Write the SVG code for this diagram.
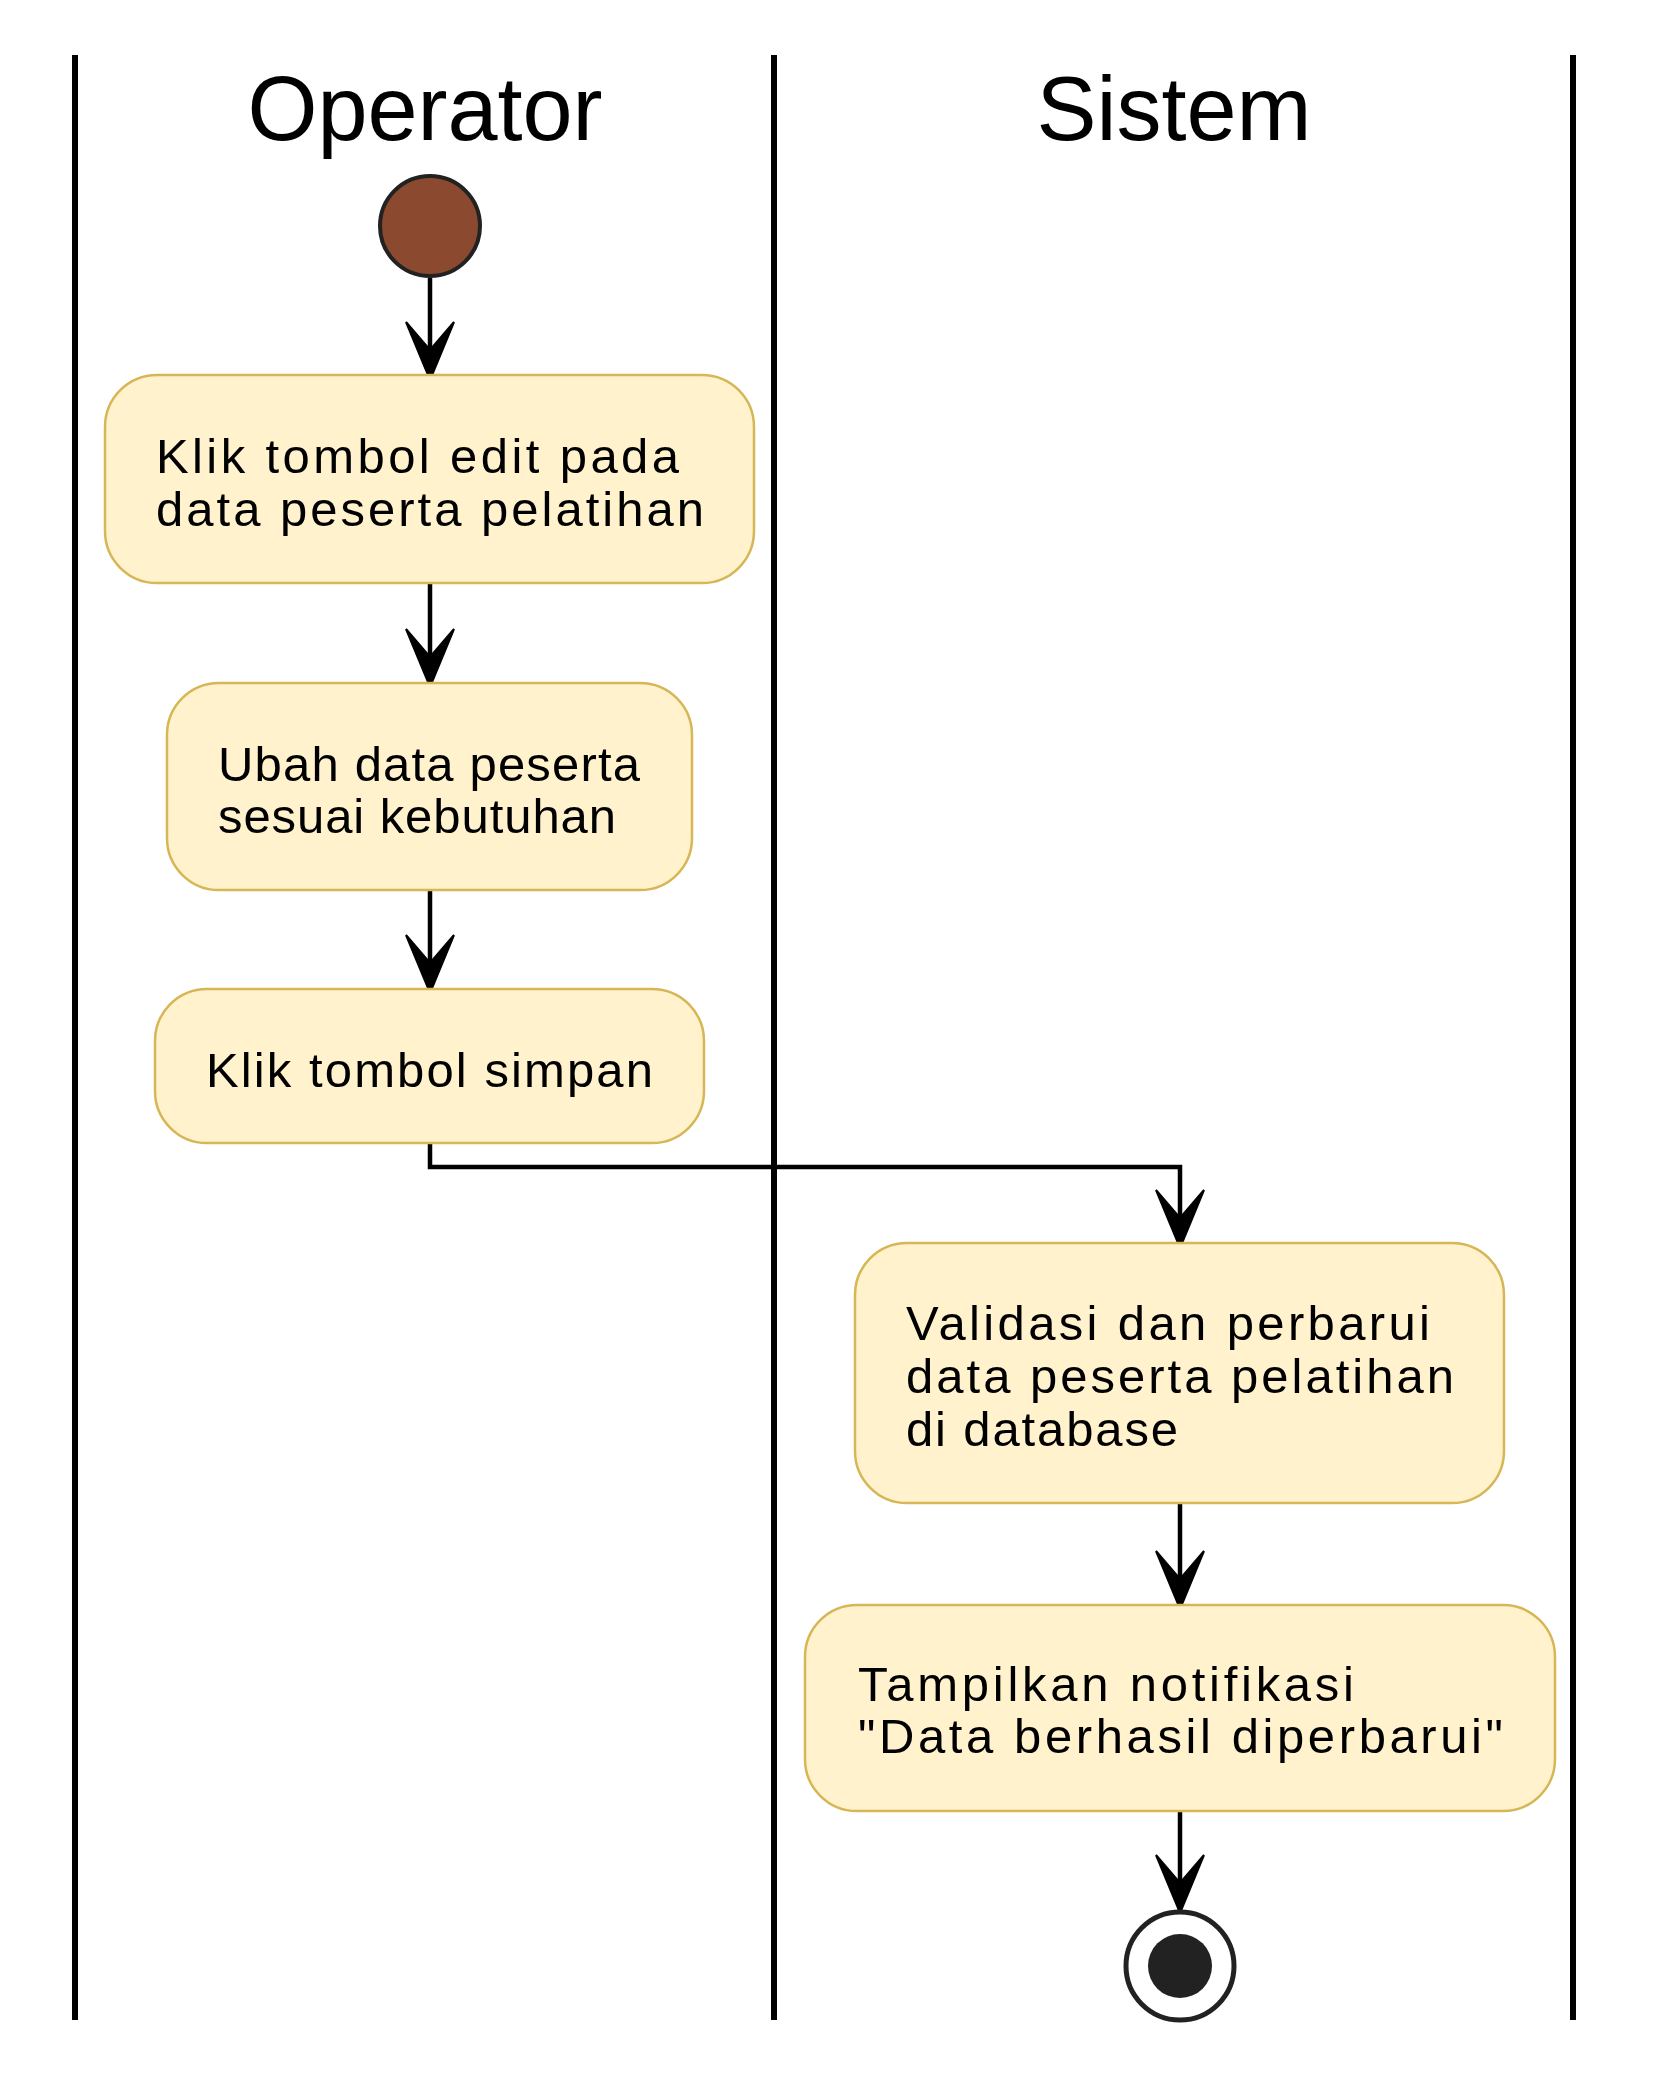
<svg xmlns="http://www.w3.org/2000/svg" width="1680" height="2080" viewBox="0 0 1680 2080">
<style>
.lane{stroke:#000;stroke-width:6;fill:none}
.hdr{font-family:"Liberation Sans",Arial,sans-serif;font-size:90px;fill:#000;text-anchor:middle}
.box{fill:#FFF2CC;stroke:#D6B656;stroke-width:2.5}
.lbl{font-family:"Liberation Sans",Arial,sans-serif;font-size:49px;fill:#000}
.edge{stroke:#000;stroke-width:4.5;fill:none;marker-end:url(#arr)}
</style>
<defs>
<marker id="arr" markerUnits="userSpaceOnUse" orient="auto" refX="0" refY="0" markerWidth="80" markerHeight="60" viewBox="-70 -30 80 60" overflow="visible">
<path d="M0,0 L-58,-24 L-30,0 L-58,24 Z" fill="#000" stroke="#000" stroke-width="2" stroke-linejoin="miter"/>
</marker>
</defs>
<rect width="1680" height="2080" fill="#fff"/>
<g id="lanes">
<line class="lane" x1="75" y1="55" x2="75" y2="2020"/>
<line class="lane" x1="774" y1="55" x2="774" y2="2020"/>
<line class="lane" x1="1573" y1="55" x2="1573" y2="2020"/>
<text class="hdr" x="425" y="140">Operator</text>
<text class="hdr" x="1174" y="140">Sistem</text>
</g>
<g id="connectors">
<path class="edge" d="M430,278 L430,380"/>
<path class="edge" d="M430,583 L430,687"/>
<path class="edge" d="M430,890 L430,993"/>
<path class="edge" d="M430,1143 L430,1167 L1180,1167 L1180,1248"/>
<path class="edge" d="M1180,1503 L1180,1609"/>
<path class="edge" d="M1180,1811 L1180,1913"/>
</g>
<g id="start">
<circle cx="430" cy="226" r="50" fill="#8B4A2F" stroke="#222" stroke-width="4"/>
</g>
<g id="a1">
<rect class="box" x="105" y="375" width="649" height="208" rx="52"/>
<text class="lbl" x="156" y="473" textLength="523" lengthAdjust="spacing">Klik tombol edit pada</text>
<text class="lbl" x="156" y="526" textLength="548" lengthAdjust="spacing">data peserta pelatihan</text>
</g>
<g id="a2">
<rect class="box" x="167" y="683" width="525" height="207" rx="52"/>
<text class="lbl" x="218" y="781" textLength="422" lengthAdjust="spacing">Ubah data peserta</text>
<text class="lbl" x="218" y="833" textLength="398" lengthAdjust="spacing">sesuai kebutuhan</text>
</g>
<g id="a3">
<rect class="box" x="155" y="989" width="549" height="154" rx="52"/>
<text class="lbl" x="206" y="1087" textLength="447" lengthAdjust="spacing">Klik tombol simpan</text>
</g>
<g id="a4">
<rect class="box" x="855" y="1243" width="649" height="260" rx="52"/>
<text class="lbl" x="906" y="1340" textLength="524" lengthAdjust="spacing">Validasi dan perbarui</text>
<text class="lbl" x="906" y="1393" textLength="548" lengthAdjust="spacing">data peserta pelatihan</text>
<text class="lbl" x="906" y="1446" textLength="272" lengthAdjust="spacing">di database</text>
</g>
<g id="a5">
<rect class="box" x="805" y="1605" width="750" height="206" rx="52"/>
<text class="lbl" x="858" y="1701" textLength="496" lengthAdjust="spacing">Tampilkan notifikasi</text>
<text class="lbl" x="858" y="1753" textLength="645" lengthAdjust="spacing">"Data berhasil diperbarui"</text>
</g>
<g id="end">
<circle cx="1180" cy="1966" r="54" fill="#fff" stroke="#222" stroke-width="5"/>
<circle cx="1180" cy="1966" r="32" fill="#222"/>
</g>
</svg>
